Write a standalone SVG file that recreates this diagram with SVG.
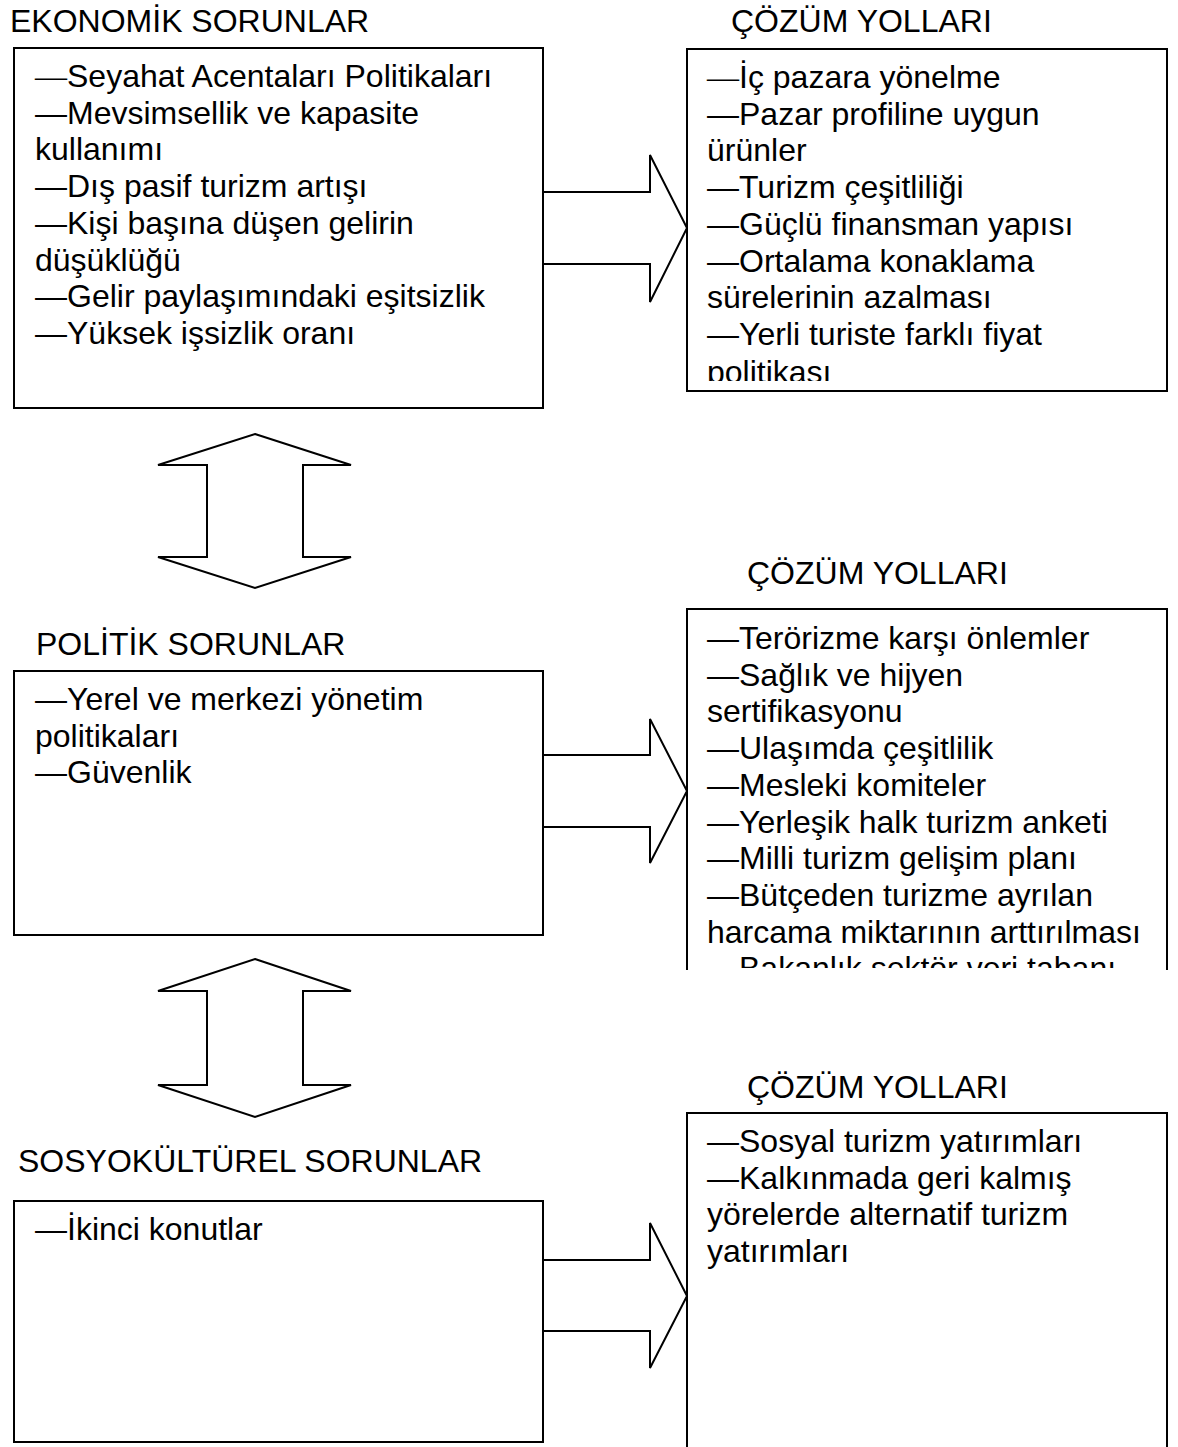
<svg xmlns="http://www.w3.org/2000/svg" width="1178" height="1447" viewBox="0 0 1178 1447">
<style>
text { font-family: "Liberation Sans", Arial, sans-serif; font-size: 32px; fill: #000; }
.box { fill: #fff; stroke: #000; stroke-width: 2; }
.side { fill: none; stroke: #000; stroke-width: 2; }
.arr { fill: none; stroke: #000; stroke-width: 2; stroke-linejoin: miter; }
.thin { font-family: "Liberation Serif", serif; }
</style>
<defs>
<clipPath id="clipR1"><rect x="687" y="49" width="480" height="332"/></clipPath>
<clipPath id="clipR2"><rect x="687" y="609" width="480" height="359"/></clipPath>
</defs>
<rect width="1178" height="1447" fill="#fff"/>

<g id="connectors">
<polyline class="arr" points="543,192 650,192 650,155 687,228 650,302 650,264 543,264"/>
<polyline class="arr" points="543,755 650,755 650,719 687,791 650,863 650,827 543,827"/>
<polyline class="arr" points="543,1260 650,1260 650,1223 687,1296 650,1368 650,1331 543,1331"/>
<polygon class="arr" points="255,434 351,465 303,465 303,557 351,557 255,588 158,557 207,557 207,465 158,465"/>
<polygon class="arr" points="255,959 351,991 303,991 303,1085 351,1085 255,1117 158,1085 207,1085 207,991 158,991"/>
</g>

<g id="economic">
<text x="10" y="32">EKONOMİK SORUNLAR</text>
<rect class="box" x="14" y="48" width="529" height="360"/>
<text x="35" y="87"><tspan class="thin">—</tspan>Seyahat Acentaları Politikaları</text>
<text x="35" y="123.7">—Mevsimsellik ve kapasite</text>
<text x="35" y="160.4">kullanımı</text>
<text x="35" y="197.1">—Dış pasif turizm artışı</text>
<text x="35" y="233.8">—Kişi başına düşen gelirin</text>
<text x="35" y="270.5">düşüklüğü</text>
<text x="35" y="307.2">—Gelir paylaşımındaki eşitsizlik</text>
<text x="35" y="343.9">—Yüksek işsizlik oranı</text>
</g>

<g id="solutions1">
<text x="731" y="32">ÇÖZÜM YOLLARI</text>
<rect class="box" x="687" y="49" width="480" height="342"/>
<g clip-path="url(#clipR1)">
<text x="707" y="88"><tspan class="thin">—</tspan>İç pazara yönelme</text>
<text x="707" y="124.7">—Pazar profiline uygun</text>
<text x="707" y="161.4">ürünler</text>
<text x="707" y="198.1">—Turizm çeşitliliği</text>
<text x="707" y="234.8">—Güçlü finansman yapısı</text>
<text x="707" y="271.5">—Ortalama konaklama</text>
<text x="707" y="308.2">sürelerinin azalması</text>
<text x="707" y="344.9">—Yerli turiste farklı fiyat</text>
<text x="707" y="383">politikası</text>
</g>
</g>

<g id="political">
<text x="36" y="655">POLİTİK SORUNLAR</text>
<rect class="box" x="14" y="671" width="529" height="264"/>
<text x="35" y="710">—Yerel ve merkezi yönetim</text>
<text x="35" y="746.7">politikaları</text>
<text x="35" y="783.4">—Güvenlik</text>
</g>

<g id="solutions2">
<text x="747" y="584">ÇÖZÜM YOLLARI</text>
<rect x="687" y="609" width="480" height="361" fill="#fff"/>
<polyline class="side" points="687,970 687,609 1167,609 1167,970"/>
<g clip-path="url(#clipR2)">
<text x="707" y="649">—Terörizme karşı önlemler</text>
<text x="707" y="685.7">—Sağlık ve hijyen</text>
<text x="707" y="722.4">sertifikasyonu</text>
<text x="707" y="759.1">—Ulaşımda çeşitlilik</text>
<text x="707" y="795.8">—Mesleki komiteler</text>
<text x="707" y="832.5">—Yerleşik halk turizm anketi</text>
<text x="707" y="869.2">—Milli turizm gelişim planı</text>
<text x="707" y="905.9">—Bütçeden turizme ayrılan</text>
<text x="707" y="942.6">harcama miktarının arttırılması</text>
<text x="707" y="979.3">—Bakanlık sektör veri tabanı</text>
</g>
</g>

<g id="sociocultural">
<text x="18" y="1172">SOSYOKÜLTÜREL SORUNLAR</text>
<rect class="box" x="14" y="1201" width="529" height="241"/>
<text x="35" y="1240">—İkinci konutlar</text>
</g>

<g id="solutions3">
<text x="747" y="1098">ÇÖZÜM YOLLARI</text>
<polyline class="side" points="687,1447 687,1113 1167,1113 1167,1447"/>
<text x="707" y="1152">—Sosyal turizm yatırımları</text>
<text x="707" y="1188.7">—Kalkınmada geri kalmış</text>
<text x="707" y="1225.4">yörelerde alternatif turizm</text>
<text x="707" y="1262.1">yatırımları</text>
</g>
</svg>
